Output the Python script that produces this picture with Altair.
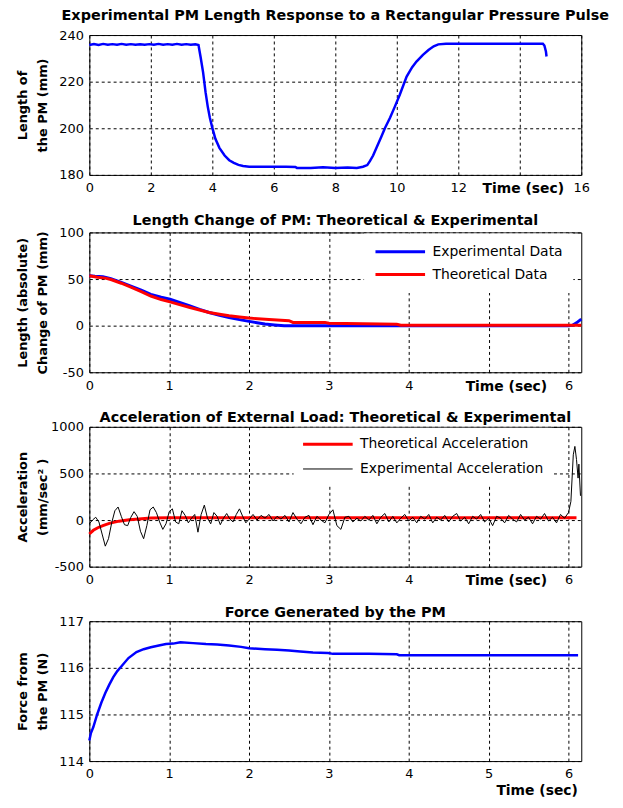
import altair as alt
import pandas as pd

# ---------------- data ----------------
# Panel 1: experimental PM length response
t1 = [0, 0.15, 0.3, 0.45, 0.6, 0.75, 0.9, 1.05, 1.2, 1.35, 1.5, 1.65, 1.8, 1.95,
      2.1, 2.25, 2.4, 2.55, 2.7, 2.85, 3.0, 3.15, 3.3, 3.45, 3.55, 3.62, 3.7, 3.78,
      3.85, 3.92, 4.0, 4.1, 4.23, 4.4, 4.55, 4.7, 4.85, 5.0, 5.2, 5.6, 6.0, 6.4,
      6.7, 6.75, 7.2, 7.6, 8.0, 8.4, 8.7, 8.9, 9.04, 9.13, 9.23, 9.35, 9.5, 9.62,
      9.78, 9.94, 10.1, 10.32, 10.5, 10.64, 10.85, 11.03, 11.2, 11.35, 11.6, 12.0,
      12.5, 13.0, 13.5, 14.0, 14.5, 14.75, 14.8, 14.85, 14.87]
len1 = [235.7, 236.1, 235.7, 236.2, 235.8, 236.1, 235.8, 236.2, 235.8, 236.1, 235.8,
        236.0, 235.8, 236.1, 235.8, 236.2, 235.8, 236.1, 235.8, 236.2, 235.8, 236.1,
        235.8, 236.0, 235.7, 230.5, 224.0, 215.5, 209.4, 204.5, 200.2, 195.5, 191.6,
        188.3, 186.3, 185.2, 184.3, 183.8, 183.5, 183.5, 183.5, 183.5, 183.4, 183.0,
        183.0, 183.3, 183.0, 183.2, 183.0, 183.5, 184.2, 186.0, 188.3, 192.0, 196.5,
        200.2, 204.5, 209.4, 214.5, 222.2, 226.2, 228.6, 231.5, 233.6, 235.2, 236.0,
        236.3, 236.3, 236.3, 236.3, 236.3, 236.3, 236.3, 236.3, 235.5, 233.0, 230.8]

# Panel 2: length change, experimental & theoretical
t2e = [0, 0.07, 0.17, 0.27, 0.4, 0.52, 0.65, 0.77, 0.9, 1.01, 1.13, 1.26, 1.38, 1.5,
       1.63, 1.75, 1.88, 2.0, 2.1, 2.2, 2.32, 2.44, 2.6, 3.0, 4.0, 5.0, 6.0, 6.05,
       6.1, 6.16]
len2e = [53.5, 53.0, 52.5, 50.5, 46.5, 42.4, 38.0, 33.6, 30.5, 28.3, 25.0, 21.2, 17.5,
         14.1, 11.2, 8.8, 6.5, 4.6, 3.2, 1.8, 0.8, 0, 0, 0, 0, 0, 0, 0.5, 3.0, 7.0]
t2t = [0, 0.1, 0.2, 0.27, 0.4, 0.52, 0.65, 0.77, 0.9, 1.01, 1.13, 1.26, 1.38, 1.5,
       1.63, 1.75, 1.88, 2.0, 2.25, 2.5, 2.55, 2.95, 3.0, 3.85, 3.9, 6.16]
len2t = [53.5, 52.0, 51.0, 49.5, 45.5, 41.4, 36.5, 31.8, 28.0, 25.5, 22.5, 19.5, 16.8,
         14.1, 12.2, 10.6, 9.2, 8.1, 6.5, 5.3, 3.5, 3.5, 2.5, 1.4, 0.4, 0.4]

# Panel 3: acceleration, theoretical & experimental
t3t = [0, 0.05, 0.1, 0.17, 0.25, 0.37, 0.5, 0.62, 0.77, 1.0, 2.0, 3.0, 4.0, 5.0, 6.1]
acc3t = [-150, -110, -85, -60, -35, -12, 3, 12, 22, 25, 25, 25, 25, 25, 25]
t3e = [0.00, 0.04, 0.08, 0.12, 0.16, 0.20, 0.24, 0.28, 0.32, 0.36, 0.40, 0.44, 0.48,
       0.52, 0.56, 0.60, 0.64, 0.68, 0.72, 0.76, 0.80, 0.84, 0.88, 0.92, 0.96, 1.00,
       1.04, 1.08, 1.12, 1.16, 1.20, 1.24, 1.28, 1.32, 1.36, 1.40, 1.44, 1.48, 1.52,
       1.56, 1.60, 1.64, 1.68, 1.72, 1.76, 1.80, 1.84, 1.88, 1.92, 1.96, 2.00,
       2.05, 2.10, 2.15, 2.20, 2.25, 2.30, 2.35, 2.40, 2.45, 2.50, 2.55, 2.60, 2.65,
       2.70, 2.75, 2.80, 2.85, 2.90, 2.95, 3.00, 3.05, 3.10, 3.15, 3.20, 3.25, 3.30,
       3.35, 3.40, 3.45, 3.50, 3.55, 3.60, 3.65, 3.70, 3.75, 3.80, 3.85, 3.90, 3.95,
       4.00, 4.05, 4.10, 4.15, 4.20, 4.25, 4.30, 4.35, 4.40, 4.45, 4.50, 4.55, 4.60,
       4.65, 4.70, 4.75, 4.80, 4.85, 4.90, 4.95, 5.00, 5.05, 5.10, 5.15, 5.20, 5.25,
       5.30, 5.35, 5.40, 5.45, 5.50, 5.55, 5.60, 5.65, 5.70, 5.75, 5.80, 5.85, 5.90,
       5.95, 6.00, 6.03, 6.06, 6.08, 6.10, 6.12, 6.13, 6.15]
acc3e = [-40, 0, 30, -20, -150, -280, -200, -30, 100, 140, 40, -50, -60,
         30, 90, 40, -120, -200, -60, 110, 140, 80, -20, -100, -40, 90,
         120, -20, -40, 100, 50, -30, 20, 60, -130, 60, 160, 20, -40,
         80, 40, -50, 20, 70, 10, -20, 60, 120, 40, -30, 10,
         60, 0, 50, 20, 60, -10, 40, 10, 50, -20, 80, 10, -40,
         30, 50, -50, 40, 0, -30, 60, 110, -60, -100, 30, 40, -20,
         20, -10, 40, 0, 50, -40, 30, 70, -20, 40, -30, 20, 60,
         -10, 30, -30, 40, 10, 60, -30, 30, 0, 50, -20, 40, 70,
         -10, 30, -40, 40, 10, 60, -20, 20, -60, 40, 20, -30, 50,
         10, -20, 60, 0, 30, -40, 40, 10, 70, -10, 30, -30, 60,
         20, 80, 200, 700, 790, 650, 450, 600, 260]

# Panel 4: force generated by the PM
t4 = [0, 0.02, 0.05, 0.1, 0.15, 0.2, 0.25, 0.3, 0.35, 0.4, 0.49, 0.59, 0.68, 0.77,
      0.87, 0.96, 1.05, 1.14, 1.3, 1.46, 1.6, 1.75, 1.9, 2.0, 2.2, 2.35, 2.5, 2.64,
      2.8, 2.99, 3.05, 3.5, 3.85, 3.88, 5.0, 6.12]
f4 = [114.44, 114.6, 114.73, 115.01, 115.25, 115.46, 115.64, 115.8, 115.93, 116.03,
      116.21, 116.34, 116.4, 116.44, 116.48, 116.51, 116.52, 116.55, 116.53, 116.51,
      116.5, 116.48, 116.45, 116.42, 116.4, 116.39, 116.37, 116.35, 116.33, 116.32,
      116.3, 116.3, 116.29, 116.27, 116.27, 116.27]

# ---------------- styling ----------------
BLUE = "#0000FF"
RED = "#FF0000"
FONT = "DejaVu Sans"
W = 496
H = 141
XMAX = 6.16


def x_axis(values, skip=None, title_x=451, inline=True):
    kw = dict(values=values, grid=True, ticks=False, domain=False,
              labelPadding=7, labelFont=FONT, labelFontSize=13, labelColor="black",
              labelFlush=False, labelOverlap=False, labelBound=False,
              gridColor="black", gridDash=[3, 3], gridWidth=1, gridOpacity=1,
              title="Time (sec)", titleFont=FONT, titleFontSize=14,
              titleFontWeight="bold", titleColor="black", titleX=title_x,
              titleAlign="center")
    if skip is not None:
        kw["labelExpr"] = f"datum.value == {skip} ? '' : '' + datum.value"
    else:
        kw["labelExpr"] = "'' + datum.value"
    if inline:
        # the title sits in the row of tick labels, in place of one label
        kw.update(titleY=7, titleBaseline="top")
    else:
        kw.update(titlePadding=3)
    return alt.Axis(**kw)


def y_axis(values, title_lines):
    return alt.Axis(values=values, grid=True, ticks=False, domain=False,
                    labelPadding=6, labelFont=FONT, labelFontSize=13, labelColor="black",
                    labelFlush=False, labelOverlap=False, labelExpr="'' + datum.value",
                    gridColor="black", gridDash=[3, 3], gridWidth=1, gridOpacity=1,
                    title=title_lines, titleFont=FONT, titleFontSize=13,
                    titleFontWeight="bold", titleColor="black", titleLineHeight=20,
                    titleX=-60)


def panel_title(text, offset):
    return alt.TitleParams(text=text, font=FONT, fontSize=14.5, fontWeight="bold",
                           color="black", anchor="middle", baseline="alphabetic",
                           offset=offset)


def legend(x, pad, row_pad, **extra):
    return alt.Legend(orient="none", legendX=x, legendY=1, title=None,
                      fillColor="white", padding=pad, rowPadding=row_pad, labelOffset=6,
                      labelFont=FONT, labelFontSize=14, labelColor="black", labelLimit=400,
                      symbolType="stroke", symbolSize=2500, clipHeight=17, **extra)


# ---------------- panel 1 ----------------
df1 = pd.DataFrame({"t": t1, "v": len1})
p1 = alt.Chart(df1).mark_line(color=BLUE, strokeWidth=2.5).encode(
    x=alt.X("t:Q", scale=alt.Scale(domain=[0, 16], nice=False),
            axis=x_axis(list(range(0, 17, 2)), skip=14, title_x=437)),
    y=alt.Y("v:Q", scale=alt.Scale(domain=[180, 240], nice=False),
            axis=y_axis([180, 200, 220, 240], ["Length of", "the PM (mm)"])),
).properties(width=W, height=H,
             title=panel_title("Experimental PM Length Response to a Rectangular Pressure Pulse", -5))

# ---------------- panel 2 ----------------
names2 = ["Experimental Data", "Theoretical Data"]
df2e = pd.DataFrame({"t": t2e, "v": len2e, "series": names2[0]})
df2t = pd.DataFrame({"t": t2t, "v": len2t, "series": names2[1]})
x2 = alt.X("t:Q", scale=alt.Scale(domain=[0, XMAX], nice=False),
           axis=x_axis(list(range(0, 7)), skip=5, title_x=420))
y2 = alt.Y("v:Q", scale=alt.Scale(domain=[-50, 100], nice=False),
           axis=y_axis([-50, 0, 50, 100], ["Length (absolute)", "Change of PM (mm)"]))
leg2 = legend(277, 10, 6, symbolStrokeWidth=3)
c2 = alt.Color("series:N", scale=alt.Scale(domain=names2, range=[BLUE, RED]), legend=leg2)
p2 = alt.layer(
    alt.Chart(df2e).mark_line(strokeWidth=3).encode(x=x2, y=y2, color=c2),
    alt.Chart(df2t).mark_line(strokeWidth=3).encode(x=x2, y=y2, color=c2),
).properties(width=W, height=H,
             title=panel_title("Length Change of PM: Theoretical & Experimental", -13))

# ---------------- panel 3 ----------------
names3 = ["Theoretical Acceleration", "Experimental Acceleration"]
df3t = pd.DataFrame({"t": t3t, "v": acc3t, "series": names3[0]})
df3e = pd.DataFrame({"t": t3e, "v": acc3e, "series": names3[1]})
leg3 = legend(206, 8, 8)
x3 = alt.X("t:Q", scale=alt.Scale(domain=[0, XMAX], nice=False),
           axis=x_axis(list(range(0, 7)), skip=5, title_x=420))
y3 = alt.Y("v:Q", scale=alt.Scale(domain=[-500, 1000], nice=False),
           axis=y_axis([-500, 0, 500, 1000], ["Acceleration", "(mm/sec² )"]))
c3 = alt.Color("series:N", scale=alt.Scale(domain=names3, range=[RED, "black"]), legend=leg3)
s3 = alt.StrokeWidth("series:N", scale=alt.Scale(domain=names3, range=[3, 1]), legend=leg3)
p3 = alt.layer(
    alt.Chart(df3t).mark_line().encode(x=x3, y=y3, color=c3, strokeWidth=s3),
    alt.Chart(df3e).mark_line().encode(x=x3, y=y3, color=c3, strokeWidth=s3),
).properties(width=W, height=H,
             title=panel_title("Acceleration of External Load: Theoretical & Experimental", -16))

# ---------------- panel 4 ----------------
df4 = pd.DataFrame({"t": t4, "v": f4})
p4 = alt.Chart(df4).mark_line(color=BLUE, strokeWidth=2.5).encode(
    x=alt.X("t:Q", scale=alt.Scale(domain=[0, XMAX], nice=False),
            axis=x_axis(list(range(0, 7)), title_x=451, inline=False)),
    y=alt.Y("v:Q", scale=alt.Scale(domain=[114, 117], nice=False),
            axis=y_axis([114, 115, 116, 117], ["Force from", "the PM (N)"])),
).properties(width=W, height=H,
             title=panel_title("Force Generated by the PM", -16))

chart = alt.vconcat(p1, p2, p3, p4, spacing=16).resolve_scale(
    color="independent", strokeWidth="independent"
).resolve_legend(color="independent", strokeWidth="independent").properties(
    padding={"left": 8, "top": -4, "right": 5, "bottom": 0},
    background="white",
).configure_view(stroke="black", strokeWidth=1)

chart.save("out.html", embed_options={"renderer": "svg", "actions": False})
